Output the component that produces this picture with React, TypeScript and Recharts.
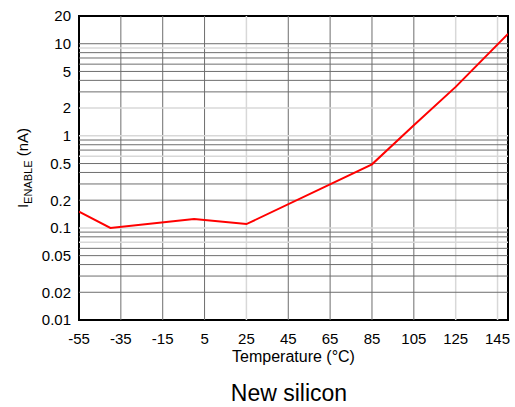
import React from 'react';
import {
  LineChart,
  Line,
  XAxis,
  YAxis,
  ReferenceLine,
  ReferenceArea,
} from 'recharts';

// temperature (°C) and enable current (nA)
const temperature = [-55, -40, 0, 25, 85, 105, 125, 150];
const enableCurrent = [0.15, 0.1, 0.125, 0.11, 0.49, 1.3, 3.4, 12.8];

const xTicks = [-55, -35, -15, 5, 25, 45, 65, 85, 105, 125, 145];
const yTicks = [0.01, 0.02, 0.05, 0.1, 0.2, 0.5, 1, 2, 5, 10, 20];

// grid lines (some are drawn lighter in the original)
const xGridDark = [-35, -15, 5, 45, 65, 85, 105];
const xGridLight = [25, 125, 145];
const yGridDark = [
  0.02, 0.03, 0.04, 0.05, 0.06, 0.08, 0.09,
  0.2, 0.3, 0.4, 0.5, 0.7, 0.8, 0.9,
  3, 4, 5, 6, 7, 8, 10,
];
const yGridLight = [0.07, 0.1, 0.6, 1, 2, 9];

const data = temperature.map((t, i) => ({ t, v: enableCurrent[i] }));

const FONT = '"Liberation Sans", Arial, sans-serif';

const YLabel = ({ viewBox }: { viewBox?: { x: number; y: number; width: number; height: number } }) => {
  const cy = viewBox ? viewBox.y + viewBox.height / 2 : 168;
  const x = 28;
  return (
    <text
      x={x}
      y={cy}
      transform={`rotate(-90, ${x}, ${cy})`}
      textAnchor="middle"
      fontSize={15}
      fill="#000"
      fontFamily={FONT}
    >
      <tspan>I</tspan>
      <tspan fontSize={11} dy={4}>ENABLE</tspan>
      <tspan dy={-4}> (nA)</tspan>
    </text>
  );
};

const XLabel = ({ viewBox }: { viewBox?: { x: number; y: number; width: number; height: number } }) => {
  const cx = viewBox ? viewBox.x + viewBox.width / 2 : 293;
  return (
    <text x={cx} y={362} textAnchor="middle" fontSize={16} fill="#000" fontFamily={FONT}>
      Temperature (°C)
    </text>
  );
};

export default function App() {
  return (
    <div style={{ position: 'absolute', left: 0, top: 0, width: 515, height: 407, background: '#fff' }}>
      <LineChart
        width={515}
        height={370}
        data={data}
        margin={{ top: 16, right: 7, left: 0, bottom: 0 }}
      >
        {xGridDark.map((x) => (
          <ReferenceLine key={`xd${x}`} x={x} stroke="#6e6e6e" strokeWidth={1} />
        ))}
        {xGridLight.map((x) => (
          <ReferenceLine key={`xl${x}`} x={x} stroke="#d8d8d8" strokeWidth={1.5} />
        ))}
        {yGridDark.map((y) => (
          <ReferenceLine key={`yd${y}`} y={y} stroke="#6e6e6e" strokeWidth={1} />
        ))}
        {yGridLight.map((y) => (
          <ReferenceLine key={`yl${y}`} y={y} stroke="#d8d8d8" strokeWidth={1.5} />
        ))}
        <XAxis
          dataKey="t"
          type="number"
          domain={[-55, 150]}
          ticks={xTicks}
          allowDataOverflow
          height={50}
          tickLine={false}
          axisLine={false}
          tickMargin={7}
          tick={{ fontSize: 15, fill: '#000', fontFamily: FONT }}
          label={<XLabel />}
        />
        <YAxis
          dataKey="v"
          scale="log"
          domain={[0.01, 20]}
          ticks={yTicks}
          allowDataOverflow
          width={79}
          tickLine={false}
          axisLine={false}
          interval={0}
          tick={{ fontSize: 15, fill: '#000', fontFamily: FONT }}
          label={<YLabel />}
        />
        <ReferenceArea
          x1={-55}
          x2={150}
          y1={0.01}
          y2={20}
          fill="none"
          stroke="#000"
          strokeWidth={2}
          ifOverflow="visible"
        />
        <Line
          type="linear"
          dataKey="v"
          stroke="#ff0000"
          strokeWidth={2}
          dot={false}
          isAnimationActive={false}
        />
      </LineChart>
      <div
        style={{
          position: 'absolute',
          top: 381,
          left: 0,
          width: 578,
          textAlign: 'center',
          fontFamily: FONT,
          fontSize: 23,
          color: '#000',
          lineHeight: '24px',
        }}
      >
        New silicon
      </div>
    </div>
  );
}
